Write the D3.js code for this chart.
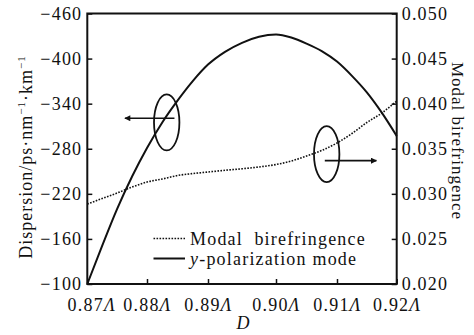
<!DOCTYPE html>
<html><head><meta charset="utf-8">
<script src="https://cdn.jsdelivr.net/npm/d3@7"></script>
<style>
html,body{margin:0;padding:0;background:#fff;}
#c, #c text, #c tspan {font-family:'Liberation Serif','Times New Roman','DejaVu Serif',serif;}
</style></head>
<body><svg id="c" width="474" height="335"></svg>
<script>
// ---- data ----
const D = [0.870,0.8725,0.875,0.8775,0.880,0.8825,0.885,0.8875,0.890,0.8925,0.895,0.8975,0.900,0.9025,0.905,0.9075,0.910,0.9125,0.915,0.9175,0.920];
const dispersion = [-100,-151,-200,-243,-281,-315,-344,-370,-392,-409,-421,-429,-432,-428,-420,-410,-396,-377,-355,-328,-297];
const birefringence = [0.02887,0.02948,0.03009,0.03075,0.03131,0.03164,0.03203,0.03225,0.03242,0.03261,0.03278,0.03298,0.03325,0.03364,0.03420,0.03481,0.03564,0.03669,0.03791,0.03896,0.04029];
const xTicks = [0.87,0.88,0.89,0.90,0.91,0.92];
const xTickLabels = ["0.87","0.88","0.89","0.90","0.91","0.92"];
const leftTicks = [-460,-400,-340,-280,-220,-160,-100];
const rightTicks = [0.050,0.045,0.040,0.035,0.030,0.025,0.020];
const legendLabels = ["Modal  birefringence","-polarization mode"];
// annotations in data units: [D, value]
const ellipseLeft = {c:[0.88323,-315], arrowFrom:[0.8845,-320.6], arrowTo:[0.8763,-320.6]};
const ellipseRight = {c:[0.90831,0.0344], arrowFrom:[0.9080,0.03368], arrowTo:[0.9166,0.03368]};

// ---- layout ----
const svg = d3.select("#c");
const L = 87.3, R = 396.7, T = 13.5, B = 284;
const fs = 18, ls = "1.2px";

const x = d3.scaleLinear().domain(xTicks).range([L,147,208,276,337,R]);
const yL = d3.scaleLinear().domain([-100,-460]).range([B,T]);
const yR = d3.scaleLinear().domain([0.020,0.050]).range([B,T]);

// axes
const ax = svg.append("g").attr("transform",`translate(0,${B})`)
  .call(d3.axisBottom(x).tickValues(xTicks).tickSize(-5).tickPadding(14).tickFormat((d,i)=>xTickLabels[i]));
ax.selectAll(".tick text").each(function(d,i){
  const t = d3.select(this);
  t.text(null);
  t.append("tspan").text(xTickLabels[i]);
  t.append("tspan").attr("font-style","italic").text("Λ");
  if(i===0) t.attr("dx","4");
});
const al = svg.append("g").attr("transform",`translate(${L},0)`)
  .call(d3.axisLeft(yL).tickValues(leftTicks).tickSize(-5).tickPadding(5).tickFormat(d=>"\u2212"+Math.abs(d)));
const ar = svg.append("g").attr("transform",`translate(${R},0)`)
  .call(d3.axisRight(yR).tickValues(rightTicks).tickSize(-5).tickPadding(5).tickFormat(d3.format(".3f")));
[ax,al,ar].forEach(g=>{
  g.attr("font-family",null);
  g.select(".domain").remove();
  g.selectAll(".tick line").attr("stroke","#111").attr("stroke-width",1.5);
  g.selectAll(".tick text").attr("font-size",fs).style("letter-spacing",ls).attr("fill","#111");
});

// frame
svg.append("rect").attr("x",L).attr("y",T).attr("width",R-L).attr("height",B-T)
  .attr("fill","none").attr("stroke","#111").attr("stroke-width",2);

// curves
const lineDisp = d3.line().x((d,i)=>x(D[i])).y(d=>yL(d)).curve(d3.curveMonotoneX);
const lineBiref = d3.line().x((d,i)=>x(D[i])).y(d=>yR(d)).curve(d3.curveMonotoneX);
svg.append("path").attr("d",lineBiref(birefringence)).attr("fill","none")
  .attr("stroke","#111").attr("stroke-width",1.6).attr("stroke-dasharray","1.6,1.4");
svg.append("path").attr("d",lineDisp(dispersion)).attr("fill","none")
  .attr("stroke","#111").attr("stroke-width",2);

// annotations
const defs = svg.append("defs");
defs.append("marker").attr("id","ah").attr("viewBox","0 0 10 10").attr("refX",9).attr("refY",5)
  .attr("markerWidth",9).attr("markerHeight",6).attr("orient","auto").attr("markerUnits","userSpaceOnUse")
  .append("path").attr("d","M0,0L10,5L0,10z").attr("fill","#111");
function annot(a,ys){
  svg.append("ellipse").attr("cx",x(a.c[0])).attr("cy",ys(a.c[1])).attr("rx",12.7).attr("ry",28)
    .attr("fill","none").attr("stroke","#111").attr("stroke-width",1.8);
  svg.append("line").attr("x1",x(a.arrowFrom[0])).attr("y1",ys(a.arrowFrom[1]))
    .attr("x2",x(a.arrowTo[0])).attr("y2",ys(a.arrowTo[1]))
    .attr("stroke","#111").attr("stroke-width",1.6).attr("marker-end","url(#ah)");
}
annot(ellipseLeft,yL);
annot(ellipseRight,yR);

// legend
const lg = svg.append("g");
lg.append("line").attr("x1",153.5).attr("x2",185).attr("y1",238.5).attr("y2",238.5)
  .attr("stroke","#111").attr("stroke-width",1.6).attr("stroke-dasharray","1.6,1.4");
lg.append("text").attr("x",190).attr("y",245).attr("font-size",fs).style("letter-spacing",ls)
  .style("white-space","pre").attr("fill","#111").text(legendLabels[0]);
lg.append("line").attr("x1",153.5).attr("x2",185).attr("y1",258.5).attr("y2",258.5)
  .attr("stroke","#111").attr("stroke-width",2);
const t2 = lg.append("text").attr("x",190).attr("y",265).attr("font-size",fs).style("letter-spacing",ls).attr("fill","#111");
t2.append("tspan").attr("font-style","italic").text("y");
t2.append("tspan").text(legendLabels[1]);

// axis titles
svg.append("text").attr("x",243).attr("y",329).attr("text-anchor","middle").attr("fill","#111")
  .attr("font-size",fs).attr("font-style","italic").text("D");
const lt = svg.append("text").attr("transform","translate(32,157) rotate(-90)").attr("fill","#111")
  .attr("text-anchor","middle").attr("font-size",fs).style("letter-spacing","1px");
lt.append("tspan").text("Dispersion/ps·nm");
lt.append("tspan").attr("font-size",11).attr("dy",-7).text("\u22121");
lt.append("tspan").attr("dy",7).text("·km");
lt.append("tspan").attr("font-size",11).attr("dy",-7).text("\u22121");
svg.append("text").attr("transform","translate(452,141) rotate(90)").attr("fill","#111")
  .attr("text-anchor","middle").attr("font-size",17).style("letter-spacing","1px").text("Modal birefringence");
</script></body></html>
